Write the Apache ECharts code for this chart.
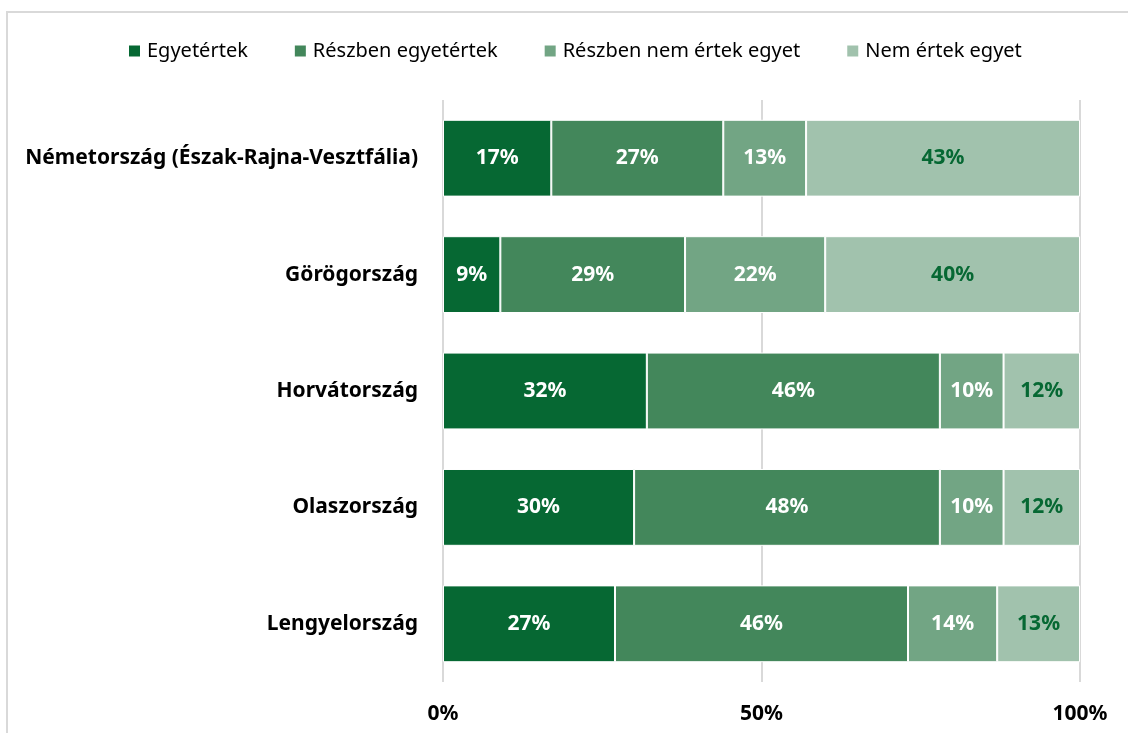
<!DOCTYPE html>
<html>
<head>
<meta charset="utf-8">
<script src="https://cdn.jsdelivr.net/npm/echarts@6/dist/echarts.min.js"></script>
<style>
  html, body { margin: 0; padding: 0; background: #fff; }
  #main { width: 1128px; height: 733px; }
</style>
</head>
<body>
<div id="main"></div>
<script>
// országok (felülről lefelé)
var countries = ['Németország (Észak-Rajna-Vesztfália)', 'Görögország', 'Horvátország', 'Olaszország', 'Lengyelország'];

// válaszok megoszlása, %
var agree = [17, 9, 32, 30, 27];
var partlyAgree = [27, 29, 46, 48, 46];
var partlyDisagree = [13, 22, 10, 10, 14];
var disagree = [43, 40, 12, 12, 13];

var seriesNames = ['Egyetértek', 'Részben egyetértek', 'Részben nem értek egyet', 'Nem értek egyet'];
var colors = ['#066833', '#43875b', '#72a584', '#a1c2ad'];
var labelColors = ['#fff', '#fff', '#fff', '#066833'];
var xTicks = [0, 50, 100];

var font = '"Noto Sans", sans-serif';

var myChart = echarts.init(document.getElementById('main'));

function makeSeries(name, data, i) {
    return {
        name: name,
        type: 'bar',
        stack: 'total',
        barCategoryGap: '34%',
        data: data,
        itemStyle: { color: colors[i], borderColor: '#fff', borderWidth: 1 },
        label: {
            show: true,
            position: 'inside',
            formatter: '{c}%',
            color: labelColors[i],
            fontFamily: font,
            fontWeight: 'bold',
            fontSize: 21
        },
        emphasis: { disabled: true }
    };
}

var option = {
    animation: false,
    backgroundColor: '#fff',
    color: colors,
    graphic: [{
        type: 'rect',
        shape: { x: 7, y: 12, width: 1140, height: 740 },
        style: { fill: 'none', stroke: '#d9d9d9', lineWidth: 2 },
        silent: true
    }],
    legend: {
        top: 36,
        left: 122,
        itemWidth: 13,
        itemHeight: 13,
        itemGap: 45,
        icon: 'rect',
        textStyle: { fontFamily: font, fontSize: 20, color: '#000', padding: [0, 0, 0, 1] },
        data: seriesNames
    },
    grid: { left: 443, right: 48, top: 100, bottom: 51, containLabel: false },
    xAxis: {
        type: 'value',
        min: 0,
        max: 100,
        interval: 50,
        axisLine: { show: false },
        axisTick: { show: false },
        splitLine: { show: true, lineStyle: { color: '#d9d9d9', width: 2 } },
        axisLabel: {
            margin: 22,
            formatter: function (v) { return xTicks.indexOf(v) >= 0 ? v + '%' : ''; },
            color: '#000',
            fontFamily: font,
            fontWeight: 'bold',
            fontSize: 21
        }
    },
    yAxis: {
        type: 'category',
        inverse: true,
        data: countries,
        axisLine: { show: false },
        axisTick: { show: false },
        axisLabel: {
            margin: 25,
            color: '#000',
            fontFamily: font,
            fontWeight: 'bold',
            fontSize: 21
        }
    },
    series: [
        makeSeries(seriesNames[0], agree, 0),
        makeSeries(seriesNames[1], partlyAgree, 1),
        makeSeries(seriesNames[2], partlyDisagree, 2),
        makeSeries(seriesNames[3], disagree, 3)
    ]
};

option && myChart.setOption(option);
</script>
</body>
</html>
